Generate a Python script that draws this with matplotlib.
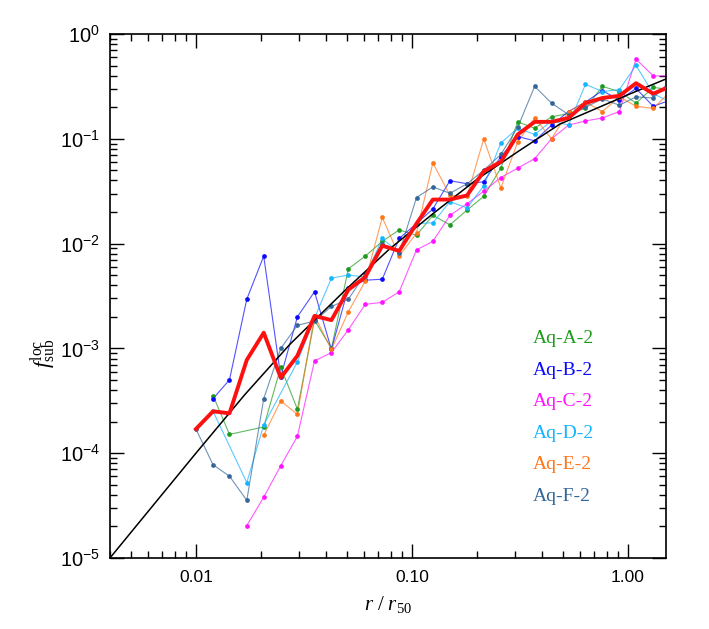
import numpy as np
import matplotlib
matplotlib.use("Agg")
import matplotlib.pyplot as plt
from matplotlib.ticker import FixedLocator, FixedFormatter, LogLocator, NullFormatter

plt.rcParams['font.family'] = ['Liberation Sans', 'DejaVu Sans']
plt.rcParams['mathtext.fontset'] = 'custom'
plt.rcParams['mathtext.rm'] = 'Liberation Serif'
plt.rcParams['mathtext.it'] = 'Liberation Serif:italic'

nan = np.nan

# radial bins, r / r50
r_bins = [0.0100, 0.0120, 0.0143, 0.0172, 0.0206, 0.0247, 0.0295, 0.0354, 0.0424,
          0.0508, 0.0608, 0.0729, 0.0873, 0.105, 0.125, 0.150, 0.180, 0.215,
          0.258, 0.309, 0.370, 0.443, 0.531, 0.636, 0.762, 0.913, 1.09, 1.31, 1.57]

f_A = [nan, 3.55e-4, 1.51e-4, nan, 1.78e-4, 6.61e-4, 2.63e-4, 1.86e-3, 1.00e-3,
       5.75e-3, 7.59e-3, 1.05e-2, 1.35e-2, 1.20e-2, 1.86e-2, 1.51e-2, 2.09e-2, 2.82e-2,
       5.25e-2, 0.145, 0.126, 0.162, 0.174, 0.195, 0.316, 0.282, 0.219, 0.309, 0.295]
f_B = [nan, 3.31e-4, 5.01e-4, 2.95e-3, 7.59e-3, 5.37e-4, 2.00e-3, 3.47e-3, 9.77e-4,
       3.80e-3, 4.47e-3, 4.57e-3, 1.12e-2, 1.55e-2, 2.14e-2, 3.98e-2, 3.72e-2, 3.89e-2,
       6.76e-2, 0.105, 0.0955, 0.135, 0.182, 0.224, 0.288, 0.234, 0.302, 0.204, 0.234]
f_C = [nan, nan, nan, 2.04e-5, 3.80e-5, 7.59e-5, 1.45e-4, 7.59e-4, 9.12e-4,
       1.51e-3, 2.63e-3, 2.75e-3, 3.47e-3, 8.71e-3, 1.05e-2, 1.86e-2, 2.40e-2, 3.16e-2,
       4.27e-2, 5.25e-2, 6.46e-2, 0.100, 0.135, 0.148, 0.158, 0.182, 0.575, 0.398, 0.398]
f_D = [nan, 2.51e-4, nan, 5.25e-5, 1.86e-4, nan, 7.41e-4, 1.95e-3, 4.68e-3,
       5.01e-3, 4.79e-3, 1.12e-2, 8.13e-3, 1.55e-2, 1.58e-2, 2.51e-2, 2.19e-2, 3.55e-2,
       9.12e-2, 0.126, 0.110, 0.148, 0.135, 0.331, 0.282, 0.295, 0.501, 0.269, 0.224]
f_E = [nan, nan, nan, nan, 1.48e-4, 3.16e-4, 2.34e-4, 2.04e-3, 9.77e-4,
       2.24e-3, 4.37e-3, 1.78e-2, 7.59e-3, 1.26e-2, 5.89e-2, 2.88e-2, 2.82e-2, 0.100,
       3.39e-2, 9.33e-2, 0.158, 0.100, 0.182, 0.224, 0.182, 0.251, 0.204, 0.195, 0.282]
f_F = [1.70e-4, 7.76e-5, 6.03e-5, 3.55e-5, 3.31e-4, 1.00e-3, 1.66e-3, 1.82e-3, 2.51e-3,
       2.95e-3, 5.13e-3, 1.00e-2, 8.13e-3, 2.75e-2, 3.47e-2, 3.02e-2, 3.72e-2, 5.01e-2,
       7.08e-2, 0.129, 0.316, 0.219, 0.170, 0.200, 0.240, 0.209, 0.251, 0.245, 0.355]
f_mean = [1.70e-4, 2.51e-4, 2.40e-4, 7.76e-4, 1.41e-3, 5.25e-4, 8.51e-4, 2.04e-3, 1.86e-3,
          3.63e-3, 4.79e-3, 9.55e-3, 8.51e-3, 1.55e-2, 2.63e-2, 2.63e-2, 2.88e-2, 4.90e-2,
          6.03e-2, 0.110, 0.145, 0.145, 0.158, 0.219, 0.245, 0.257, 0.339, 0.269, 0.316]

# smooth model curve
fit_r = [0.0040, 0.0100, 0.0168, 0.0273, 0.0500, 0.0789, 0.126, 0.199, 0.316, 0.484, 0.794, 1.00, 1.50]
fit_f = [1.00e-5, 1.00e-4, 3.60e-4, 1.10e-3, 3.72e-3, 8.91e-3, 1.95e-2, 4.07e-2, 7.76e-2,
         0.138, 0.214, 0.263, 0.372]

names = ['Aq-A-2', 'Aq-B-2', 'Aq-C-2', 'Aq-D-2', 'Aq-E-2', 'Aq-F-2']
colors = ['#1e9b1e', '#0a0aff', '#ff14ff', '#14b4ff', '#ff7518', '#336699']
series = [f_A, f_B, f_C, f_D, f_E, f_F]

fig = plt.figure(figsize=(7.09, 6.29), dpi=100)
ax = fig.add_axes([0.1551, 0.1129, 0.7842, 0.8331])

r = np.array(r_bins)
for f, c in zip(series, colors):
    f = np.array(f)
    ok = np.isfinite(f)
    ax.plot(r[ok], f[ok], '-', color=c, lw=0.8, alpha=0.7, zorder=2)
    ax.plot(r[ok], f[ok], 'o', color=c, ms=3.4, mew=0, zorder=3)

ax.plot(fit_r, fit_f, '-', color='black', lw=1.1, zorder=4)
ax.plot(r_bins, f_mean, '-', color='#ff1010', lw=2.8, zorder=5)

ax.set_xscale('log')
ax.set_yscale('log')
ax.set_xlim(0.004, 1.5)
ax.set_ylim(1e-5, 1.0)

ax.xaxis.set_major_locator(FixedLocator([0.01, 0.1, 1.0]))
ax.xaxis.set_major_formatter(FixedFormatter(['0.01', '0.10', '1.00']))
ax.xaxis.set_minor_locator(LogLocator(base=10, subs=np.arange(2, 10)))
ax.xaxis.set_minor_formatter(NullFormatter())
ax.yaxis.set_minor_locator(LogLocator(base=10, subs=np.arange(2, 10)))
ax.yaxis.set_minor_formatter(NullFormatter())

ax.tick_params(which='both', direction='in', top=True, right=True, width=1.0)
ax.tick_params(which='major', length=10, pad=9)
ax.tick_params(which='minor', length=5)
ax.tick_params(axis='x', which='major', labelsize=12.5)
ax.tick_params(axis='y', which='major', labelsize=14.5, pad=7)
for s in ax.spines.values():
    s.set_linewidth(1.2)

ax.set_xlabel(r'$r\ /\ r_{50}$', fontsize=15, labelpad=6)
ax.set_ylabel(r'$f_{\rm sub}^{\rm loc}$', fontsize=16, rotation=90)
ax.yaxis.set_label_coords(-0.092, 0.39)

for i, (name, c) in enumerate(zip(names, colors)):
    ax.text(0.76, 0.418 - i * 0.06, name, transform=ax.transAxes, color=c,
            fontsize=14, family='Liberation Serif', va='center', ha='left')

fig.savefig('out.png', dpi=100)
